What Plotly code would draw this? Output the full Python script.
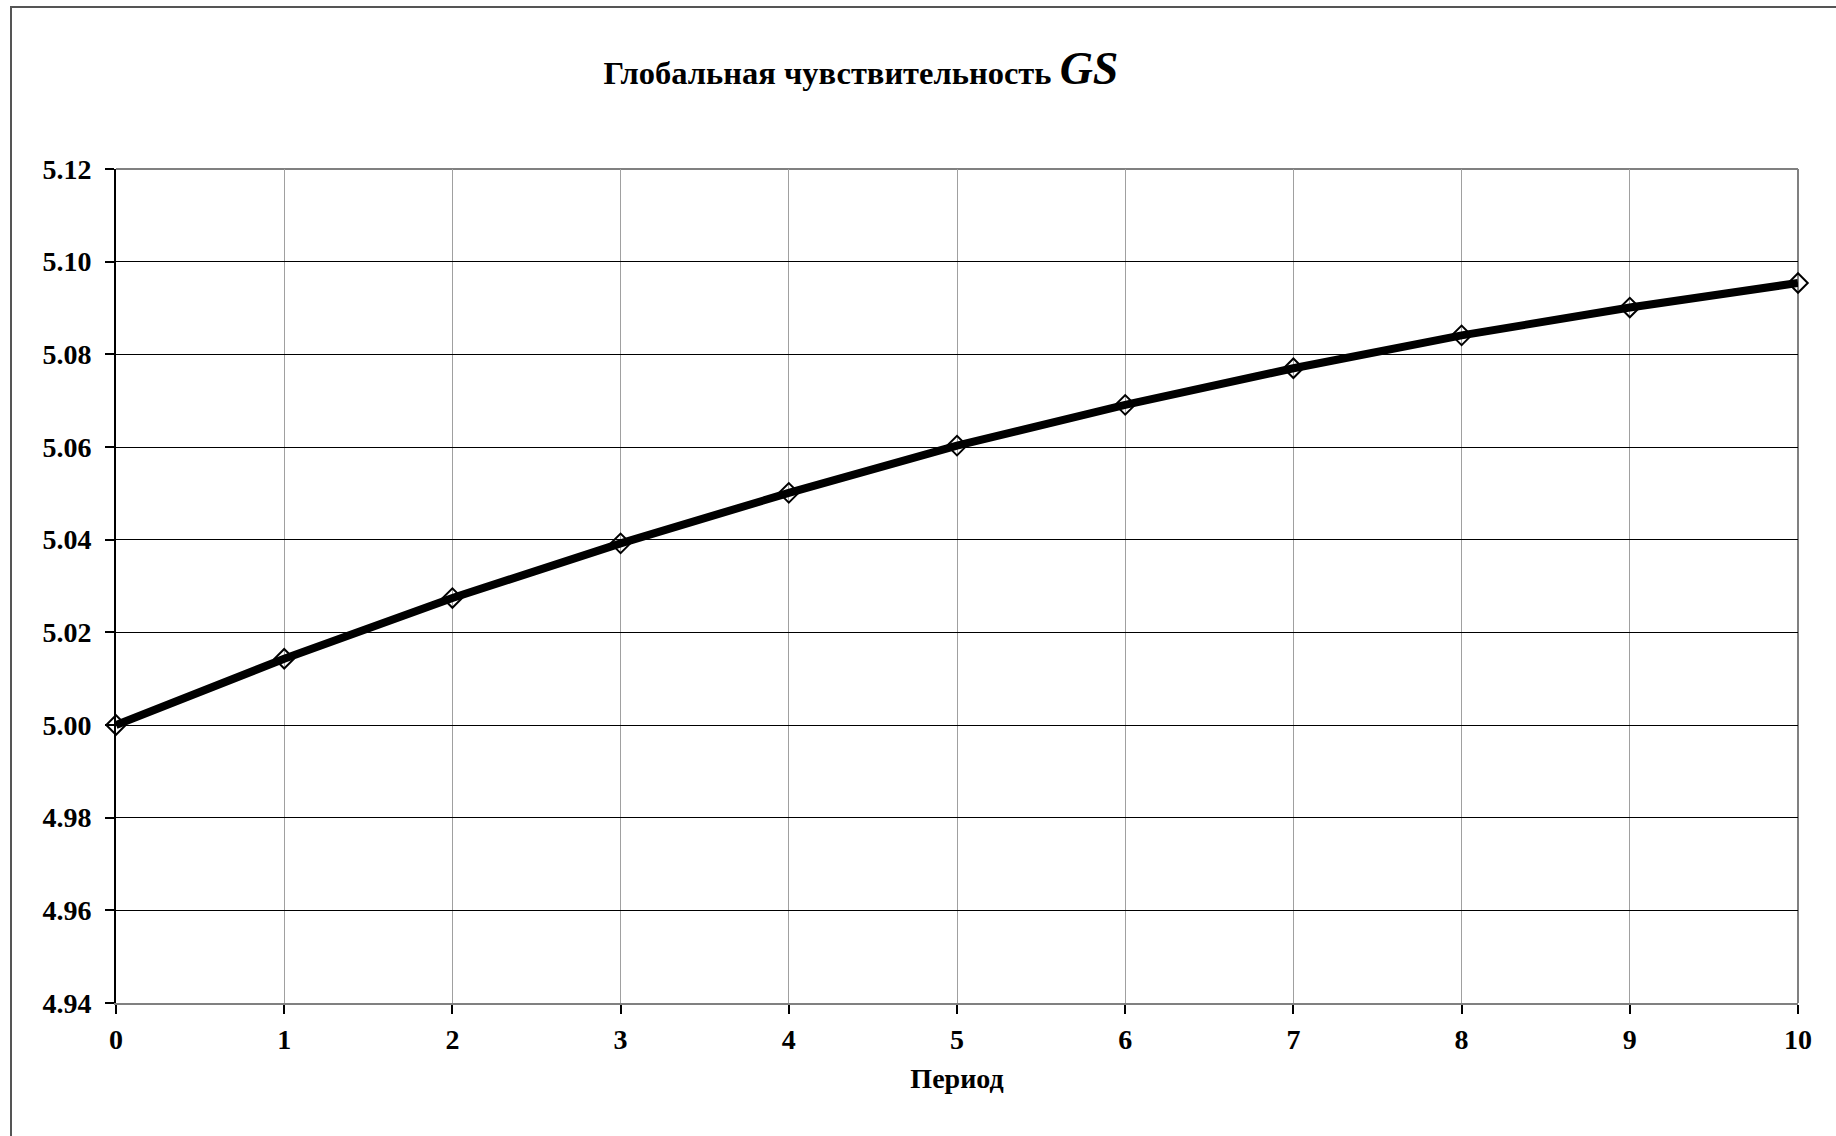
import plotly.graph_objects as go

periods = [0, 1, 2, 3, 4, 5, 6, 7, 8, 9, 10]
gs_values = [5.000, 5.0143, 5.0274, 5.0392, 5.0501, 5.0603, 5.0691, 5.0770, 5.0841, 5.0901, 5.0954]
y_ticks = [4.94, 4.96, 4.98, 5.00, 5.02, 5.04, 5.06, 5.08, 5.10, 5.12]

W, H = 1836, 1136
L, R, T, B = 116, 1798, 169, 1003
pw, ph = R - L, B - T

fig = go.Figure()
fig.add_trace(go.Scatter(
    x=periods, y=gs_values, mode="lines+markers",
    line=dict(color="black", width=8),
    marker=dict(symbol="diamond-open", size=15, color="black", line=dict(width=2, color="black")),
    showlegend=False, cliponaxis=False,
))

font = dict(family="Liberation Serif", color="black", size=28, weight="bold")

fig.update_layout(
    width=W, height=H,
    margin=dict(l=L, r=W - R, t=T, b=H - B),
    paper_bgcolor="white", plot_bgcolor="white",
    font=font,
    title=dict(
        text="Глобальная чувствительность <i><span style='font-size:46px'>GS</span></i>",
        x=(861 - L) / pw, xref="paper", xanchor="center",
        y=1 - 73 / H, yref="container", yanchor="middle",
        font=dict(family="Liberation Serif", size=32.5, color="black", weight="bold"),
    ),
    xaxis=dict(
        range=[0, 10], tickmode="array", tickvals=periods,
        showgrid=True, gridcolor="#a0a0a0", gridwidth=1,
        showline=True, linecolor="#808080", linewidth=2,
        ticks="outside", ticklen=9, tickcolor="black", tickwidth=1.5,
        ticklabelstandoff=1,
        tickfont=dict(family="Liberation Serif", size=28, color="black", weight="bold"),
        title=dict(text="Период", standoff=15,
                   font=dict(family="Liberation Serif", size=28, color="black", weight="bold")),
        zeroline=False,
    ),
    yaxis=dict(
        range=[4.94, 5.12], tickmode="array", tickvals=y_ticks,
        tickformat=".2f",
        showgrid=True, gridcolor="black", gridwidth=1,
        showline=True, linecolor="black", linewidth=2,
        ticks="outside", ticklen=9, tickcolor="black", tickwidth=1.5,
        ticklabelstandoff=8,
        tickfont=dict(family="Liberation Serif", size=28, color="black", weight="bold"),
        zeroline=False,
    ),
    shapes=[
        dict(type="line", xref="paper", yref="paper", x0=0, x1=1, y0=1, y1=1,
             line=dict(color="#808080", width=2), layer="below"),
        dict(type="line", xref="paper", yref="paper", x0=1, x1=1, y0=0, y1=1,
             line=dict(color="#808080", width=2), layer="below"),
        dict(type="rect", xref="paper", yref="paper",
             x0=(11 - L) / pw, x1=(W + 10 - L) / pw,
             y0=-(H + 10 - B) / ph, y1=1 + (T - 7) / ph,
             line=dict(color="#555555", width=2), fillcolor="rgba(0,0,0,0)"),
    ],
)

fig.write_html("out.html")
